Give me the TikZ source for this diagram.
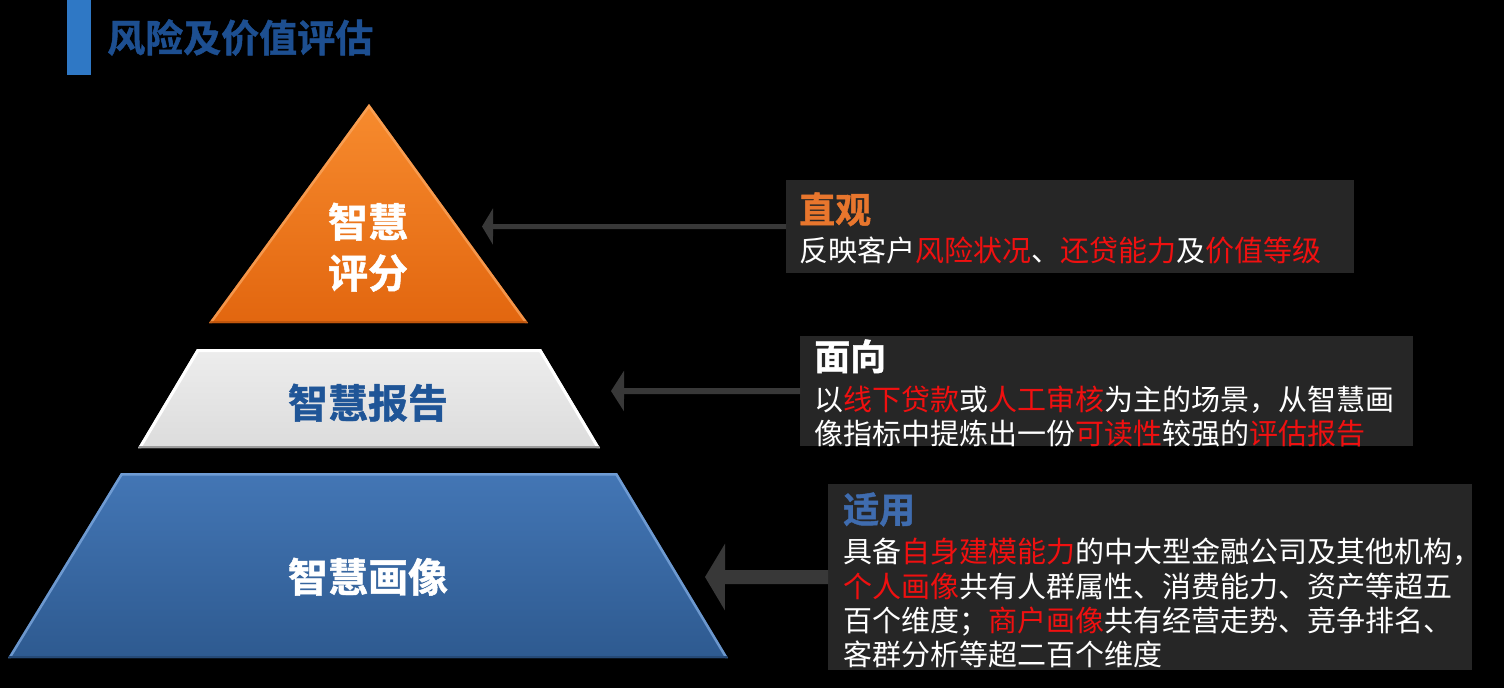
\documentclass[tikz,border=0pt]{standalone}
\usepackage{fontspec}
\newfontfamily\cjk{Noto Sans CJK SC}
\newfontfamily\cjkb{Noto Sans CJK SC Bold}[FakeBold=1.2]
\usetikzlibrary{arrows.meta}
\definecolor{boxgray}{RGB}{38,38,38}
\definecolor{arrowgray}{RGB}{56,56,56}
\definecolor{redtxt}{HTML}{F01010}
\definecolor{orangehead}{HTML}{E8762D}
\definecolor{bluehead}{HTML}{3F6CAF}
\definecolor{titleblue}{HTML}{1D4F91}
\definecolor{barblue}{HTML}{2F78C5}
\definecolor{reportblue}{HTML}{1F5597}
\definecolor{orTop}{HTML}{F78B2E}
\definecolor{orBot}{HTML}{E2660F}
\definecolor{orLight}{HTML}{FBA862}
\definecolor{orDark}{HTML}{B9520C}
\definecolor{gyTop}{HTML}{EDEDED}
\definecolor{gyBot}{HTML}{DCDCDC}
\definecolor{gyDark}{HTML}{9C9C9C}
\definecolor{blTop}{HTML}{4376B5}
\definecolor{blBot}{HTML}{2E5A90}
\definecolor{blLight}{HTML}{7BA6DC}
\definecolor{blDark}{HTML}{264A77}
\newcommand{\R}[1]{\textcolor{redtxt}{#1}}
\begin{document}
\begin{tikzpicture}[x=1pt,y=-1pt,
  boxbg/.style={fill=boxgray,draw=none,inner sep=0pt,anchor=north west},
  body/.style={font=\cjk\fontsize{29}{34.5}\selectfont,text=white,inner sep=0pt,anchor=base west},
  head/.style={font=\cjkb\fontsize{36}{40}\selectfont,inner sep=0pt,anchor=base west},
  pyr/.style={font=\cjkb\fontsize{40}{51}\selectfont,inner sep=0pt,anchor=base},
  conn/.style={draw=arrowgray}]
\fill[black] (0,0) rectangle (1504,688);
\useasboundingbox (0,0) rectangle (1504,688);

% title
\fill[barblue] (67,0) rectangle (91,75);
\node[font=\cjkb\fontsize{38}{40}\selectfont,text=titleblue,inner sep=0pt,anchor=base west] (title) at (107,52) {风险及价值评估};

% orange triangle
\begin{scope}
\clip (369,104) -- (528,323) -- (209,323) -- cycle;
\shade[top color=orTop,bottom color=orBot] (209,104) rectangle (528,323);
\draw[orLight,line width=5pt,opacity=0.7] (209,323) -- (369,104) -- (528,323);
\draw[orDark,line width=4pt,opacity=0.8] (209,323) -- (528,323);
\end{scope}
\node[pyr,text=white] (score1) at (368,237) {智慧};
\node[pyr,text=white] (score2) at (368,288) {评分};

% gray trapezoid
\begin{scope}
\clip (197,349) -- (541,349) -- (600,448) -- (138,448) -- cycle;
\shade[top color=gyTop,bottom color=gyBot] (138,349) rectangle (600,448);
\draw[white,line width=6pt] (138,448) -- (197,349) -- (541,349) -- (600,448);
\draw[gyDark,line width=5pt] (138,448) -- (600,448);
\end{scope}
\node[pyr,text=reportblue] (report) at (368,418) {智慧报告};

% blue trapezoid
\begin{scope}
\clip (121,473) -- (617,473) -- (728,658) -- (8,658) -- cycle;
\shade[top color=blTop,bottom color=blBot] (8,473) rectangle (728,658);
\draw[blLight,line width=5pt,opacity=0.8] (8,658) -- (121,473) -- (617,473) -- (728,658);
\draw[blDark,line width=5pt] (8,658) -- (728,658);
\end{scope}
\node[pyr,text=white] (portrait) at (368,592) {智慧画像};

% text boxes
\node[boxbg,minimum width=568pt,minimum height=93pt] (box1) at (786,180) {};
\node[boxbg,minimum width=613pt,minimum height=110pt] (box2) at (800,336) {};
\node[boxbg,minimum width=644pt,minimum height=186pt] (box3) at (828,484) {};

% connectors
\coordinate (t1) at (482,226.5);
\coordinate (t2) at (611,391);
\coordinate (t3) at (705,577);
\draw[conn,line width=5pt,-{Triangle[length=11pt,width=36pt]}] (box1.west) -- (t1);
\draw[conn,line width=6pt,-{Triangle[length=13pt,width=40pt]}] (box2.west) -- (t2);
\draw[conn,line width=14pt,-{Triangle[length=20pt,width=66pt]}] (box3.west) -- (t3);

% box 1 text
\node[head,text=orangehead] (h1) at (799,223) {直观};
\node[body] (l11) at (799,261) {反映客户\R{风险状况}、\R{还贷能力}及\R{价值等级}};

% box 2 text
\node[head,text=white] (h2) at (814,370) {面向};
\node[body] (l21) at (814,410) {以\R{线下贷款}或\R{人工审核}为主的场景，从智慧画};
\node[body] (l22) at (814,444) {像指标中提炼出一份\R{可读性}较强的\R{评估报告}};

% box 3 text
\node[head,text=bluehead] (h3) at (843,523) {适用};
\node[body] (l31) at (843,562) {具备\R{自身建模能力}的中大型金融公司及其他机构，};
\node[body] (l32) at (843,597) {\R{个人画像}共有人群属性、消费能力、资产等超五};
\node[body] (l33) at (843,631) {百个维度；\R{商户画像}共有经营走势、竞争排名、};
\node[body] (l34) at (843,665) {客群分析等超二百个维度};
\end{tikzpicture}
\end{document}
